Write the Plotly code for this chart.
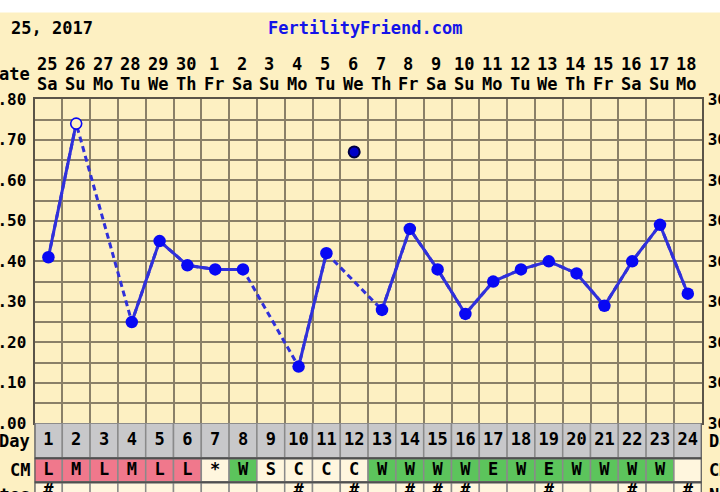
import plotly.graph_objects as go

# ---------------- data ----------------
cycle_days = list(range(1, 25))
dates = ["25", "26", "27", "28", "29", "30", "1", "2", "3", "4", "5", "6",
         "7", "8", "9", "10", "11", "12", "13", "14", "15", "16", "17", "18"]
weekdays = ["Sa", "Su", "Mo", "Tu", "We", "Th", "Fr", "Sa", "Su", "Mo", "Tu", "We",
            "Th", "Fr", "Sa", "Su", "Mo", "Tu", "We", "Th", "Fr", "Sa", "Su", "Mo"]
temps = [36.41, 36.74, None, 36.25, 36.45, 36.39, 36.38, 36.38, None, 36.14, 36.42, 36.67,
         36.28, 36.48, 36.38, 36.27, 36.35, 36.38, 36.40, 36.37, 36.29, 36.40, 36.49, 36.32]
excluded_days = [12]
open_days = [2]
cm_codes = ["L", "M", "L", "M", "L", "L", "*", "W", "S", "C", "C", "C",
            "W", "W", "W", "W", "E", "W", "E", "W", "W", "W", "W", ""]
note_days = [1, 10, 12, 14, 15, 16, 19, 22, 24]
ytick_vals = [36.0, 36.1, 36.2, 36.3, 36.4, 36.5, 36.6, 36.7, 36.8]
ytick_left = [".00", ".10", ".20", ".30", ".40", ".50", ".60", ".70", ".80"]
ytick_right = ["36.00", "36.10", "36.20", "36.30", "36.40", "36.50", "36.60", "36.70", "36.80"]
title_left = "25, 2017"
title_site = "FertilityFriend.com"

# ---------------- style ----------------
W, H = 720, 492
BG = "#FDF0C2"
GRID = "#8A8068"
BLUE_LINE = "#3030DA"
BLUE_MK = "#0808F4"
FONT = "DejaVu Sans Mono"
PINK, GREEN, CREAM, GRAY = "#F0788C", "#5CC45C", "#FFF6DE", "#C8C8CA"
CELL_LINE = "#8A8A8A"

x0_px, x1_px = 34.5, 701.7
ytop_px, ybot_px = 99.3, 423.3
def px_x(p): return p / W
def px_y(p): return 1 - p / H

main_dom = [px_y(ybot_px), px_y(ytop_px)]
table_h = H - ybot_px

line_temps = [None if d in excluded_days else t for d, t in zip(cycle_days, temps)]

fig = go.Figure()

# dashed connectors across gaps
fig.add_trace(go.Scatter(x=cycle_days, y=line_temps, mode="lines", connectgaps=True,
                         line=dict(color=BLUE_LINE, width=3, dash="6px,4px"),
                         hoverinfo="skip", showlegend=False))
# solid line segments
fig.add_trace(go.Scatter(x=cycle_days, y=line_temps, mode="lines", connectgaps=False,
                         line=dict(color=BLUE_LINE, width=3),
                         hoverinfo="skip", showlegend=False))
# filled markers
fx = [d for d, t in zip(cycle_days, line_temps) if t is not None and d not in open_days]
fy = [t for d, t in zip(cycle_days, line_temps) if t is not None and d not in open_days]
fig.add_trace(go.Scatter(x=fx, y=fy, mode="markers",
                         marker=dict(color=BLUE_MK, size=12.5, opacity=1, line=dict(width=0)),
                         showlegend=False))
# open markers
fig.add_trace(go.Scatter(x=open_days, y=[temps[d - 1] for d in open_days], mode="markers",
                         marker=dict(color=BG, size=11, opacity=1,
                                     line=dict(color=BLUE_MK, width=1.6)),
                         showlegend=False))
# excluded temperature
fig.add_trace(go.Scatter(x=excluded_days, y=[temps[d - 1] for d in excluded_days],
                         mode="markers",
                         marker=dict(color="#0000C8", size=11, opacity=1,
                                     line=dict(color="#000040", width=2)),
                         showlegend=False))
# invisible trace for right axis
fig.add_trace(go.Scatter(x=[cycle_days[0]], y=[ytick_vals[0]], yaxis="y2", mode="markers",
                         marker=dict(opacity=0), hoverinfo="skip", showlegend=False))

# ---------------- table rows ----------------
DAY_ROW = (0, 34.5)
CM_ROW = (35.5, 58.5)
NOTE_ROW = (59.5, 84)

shapes = []
def cell(d, row, fill):
    shapes.append(dict(type="rect", xref="x2", yref="y3", x0=d - 0.5, x1=d + 0.5,
                       y0=row[0], y1=row[1], fillcolor=fill,
                       line=dict(color=CELL_LINE, width=1.5), layer="below"))

def cm_fill(c):
    if c in ("L", "M", "H"):
        return PINK
    if c in ("W", "E"):
        return GREEN
    return CREAM

for d, c in zip(cycle_days, cm_codes):
    cell(d, DAY_ROW, GRAY)
    cell(d, CM_ROW, cm_fill(c))
    cell(d, NOTE_ROW, CREAM)

for yy in (DAY_ROW[1] + 0.5, CM_ROW[1] + 0.5):
    shapes.append(dict(type="line", xref="x2", yref="y3", x0=0.5, x1=24.5, y0=yy, y1=yy,
                       line=dict(color="#505050", width=2), layer="above"))
for xx in (0.5, 24.5):
    shapes.append(dict(type="line", xref="x2", yref="y3", x0=xx, x1=xx, y0=0, y1=table_h,
                       line=dict(color="#505050", width=2), layer="above"))
# white strip at top
shapes.append(dict(type="rect", xref="paper", yref="paper", x0=-0.01, x1=1.01, y0=px_y(12.5), y1=1.01,
                   fillcolor="white", line=dict(width=0), layer="below"))

tfont = dict(family=FONT, size=17, color="black", weight="bold")
fig.add_trace(go.Scatter(x=cycle_days, y=[DAY_ROW[1] / 2 + 0.5] * 24, xaxis="x2", yaxis="y3",
                         mode="text", text=[str(d) for d in cycle_days], textfont=tfont,
                         hoverinfo="skip", showlegend=False, cliponaxis=False))
fig.add_trace(go.Scatter(x=cycle_days, y=[(CM_ROW[0] + CM_ROW[1]) / 2 + 0.5] * 24, xaxis="x2", yaxis="y3",
                         mode="text", text=cm_codes, textfont=tfont,
                         hoverinfo="skip", showlegend=False, cliponaxis=False))
fig.add_trace(go.Scatter(x=note_days, y=[68.4] * len(note_days),
                         xaxis="x2", yaxis="y3", mode="text", text=["#"] * len(note_days),
                         textfont=tfont, hoverinfo="skip", showlegend=False, cliponaxis=False))

# ---------------- annotations ----------------
ann = []
def text(x_px, y_px, s, anchor="center", color="black", size=17):
    ann.append(dict(xref="paper", yref="paper", x=px_x(x_px), y=px_y(y_px), text=s,
                    showarrow=False, xanchor=anchor, yanchor="middle",
                    font=dict(family=FONT, size=size, color=color, weight="bold")))

text(9, 28, title_left, anchor="left")
text(365, 28, title_site, color="#1414E8")
text(32, 74, "ate", anchor="right")
text(32, 441, "Day", anchor="right")
text(32, 470, "CM", anchor="right")
text(707, 441, "Day", anchor="left")
text(707, 470, "CM", anchor="left")
text(707, 494.5, "Notes", anchor="left")
text(32, 494.5, "Notes", anchor="right")

for d, dt, wd in zip(cycle_days, dates, weekdays):
    ann.append(dict(xref="x", yref="paper", x=d - 0.05, y=px_y(64), text=dt, showarrow=False,
                    xanchor="center", yanchor="middle", font=tfont))
    ann.append(dict(xref="x", yref="paper", x=d - 0.05, y=px_y(84), text=wd, showarrow=False,
                    xanchor="center", yanchor="middle", font=tfont))

axfont = dict(family=FONT, size=16, color="black", weight="bold")
fig.update_layout(
    width=W, height=H, margin=dict(l=0, r=0, t=0, b=0, autoexpand=False),
    paper_bgcolor=BG, plot_bgcolor=BG,
    xaxis=dict(domain=[px_x(x0_px), px_x(x1_px)], range=[0.5, 24.5], tick0=0.5, dtick=1,
               showticklabels=False, ticks="", showgrid=True, gridcolor=GRID, gridwidth=1.5,
               zeroline=False, showline=True, mirror=True, linecolor="#5a5448", linewidth=2,
               anchor="y", automargin=False),
    xaxis2=dict(domain=[px_x(x0_px), px_x(x1_px)], range=[0.5, 24.5], matches="x",
                showticklabels=False, ticks="", showgrid=False, zeroline=False,
                showline=False, anchor="y3", automargin=False),
    yaxis=dict(domain=main_dom, range=[36.0, 36.8], tickvals=ytick_vals, ticktext=ytick_left,
               tickfont=axfont, ticks="", ticklabelstandoff=3,
               showgrid=True, gridcolor=GRID, gridwidth=1.5, zeroline=False,
               minor=dict(dtick=0.05, tick0=36.0, showgrid=True, gridcolor=GRID, gridwidth=1.5),
               showline=True, mirror=True, linecolor="#5a5448", linewidth=2, anchor="x",
               automargin=False),
    yaxis2=dict(domain=main_dom, range=[36.0, 36.8], overlaying="y", side="right",
                tickvals=ytick_vals, ticktext=ytick_right, tickfont=axfont, ticks="",
                ticklabelstandoff=5, showgrid=False, zeroline=False, anchor="x",
                automargin=False),
    yaxis3=dict(domain=[0, main_dom[0]], range=[table_h, 0], visible=False, anchor="x2",
                automargin=False),
    shapes=shapes, annotations=ann, showlegend=False,
)

fig.write_html("out.html")
